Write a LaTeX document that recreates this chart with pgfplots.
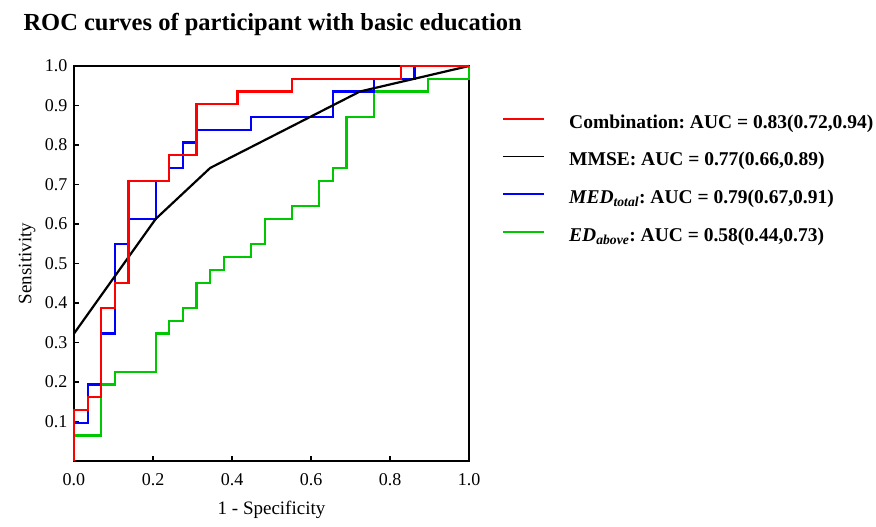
\documentclass[border=0pt]{standalone}
\usepackage{pgfplots}
\pgfplotsset{compat=1.18}
\usepackage{fontspec}
\setmainfont{Liberation Serif}
\definecolor{cred}{RGB}{255,0,0}
\definecolor{cblue}{RGB}{0,0,255}
\definecolor{cgreen}{RGB}{0,200,0}
\frenchspacing
\begin{document}
\begin{tikzpicture}
\begin{axis}[name=ax, at={(0,0)}, anchor=south west,
  scale only axis, width=395pt, height=395pt,
  xmin=0, xmax=1, ymin=0, ymax=1, clip=false,
  xtick={0,0.2,0.4,0.6,0.8,1},
  ytick={0.1,0.2,0.3,0.4,0.5,0.6,0.7,0.8,0.9,1.0},
  tick align=inside, xtick pos=bottom, ytick pos=left,
  major tick length=5pt,
  every tick/.style={black, line width=1.2pt},
  axis line style={line width=1.5pt},
  /pgf/number format/.cd, fixed, fixed zerofill, precision=1, assume math mode=true, /pgfplots/.cd,
  tick label style={font=\fontsize{18}{20}\selectfont},
  xticklabel style={anchor=north, inner sep=0pt, yshift=-12.5pt},
  yticklabel style={anchor=east, inner sep=0pt, xshift=-6.5pt},
  xlabel={1 - Specificity}, ylabel={Sensitivity},
  label style={font=\fontsize{19}{21}\selectfont},
  xlabel style={at={(rel axis cs:0.5,-0.1354)}, anchor=base},
  ylabel style={at={(rel axis cs:-0.1076,0.5)}, anchor=base},
  legend style={at={(1.0853,0.8777)}, anchor=north west, draw=none, fill=none,
    inner sep=0pt, outer sep=0pt, row sep=18.6pt,
    font=\bfseries\fontsize{19.5}{21}\selectfont,
    nodes={inner sep=0pt, text height=14pt, text depth=5pt},
    /tikz/every odd column/.append style={column sep=24pt}},
  legend cell align=left,
  legend image code/.code={\draw[#1, line width=1.5pt] (0pt,4.8pt) -- (41pt,4.8pt);},
  reverse legend,
]
\addplot[cgreen, line width=2.2pt] coordinates {
(0,0) (0,0.0645) (0.0690,0.0645) (0.0690,0.1935) (0.1034,0.1935) (0.1034,0.2258)
(0.2069,0.2258) (0.2069,0.3226) (0.2414,0.3226) (0.2414,0.3548) (0.2759,0.3548)
(0.2759,0.3871) (0.3103,0.3871) (0.3103,0.4516) (0.3448,0.4516) (0.3448,0.4839)
(0.3793,0.4839) (0.3793,0.5161) (0.4483,0.5161) (0.4483,0.5484) (0.4828,0.5484)
(0.4828,0.6129) (0.5517,0.6129) (0.5517,0.6452) (0.6207,0.6452) (0.6207,0.7097)
(0.6552,0.7097) (0.6552,0.7419) (0.6897,0.7419) (0.6897,0.8710) (0.7586,0.8710)
(0.7586,0.9355) (0.8966,0.9355) (0.8966,0.9677) (1,0.9677) (1,1)};
\addlegendentry{\textit{ED}\textsubscript{\textit{above}}: AUC = 0.58(0.44,0.73)}
\addplot[cblue, line width=2.2pt] coordinates {
(0,0) (0,0.0968) (0.0345,0.0968) (0.0345,0.1935) (0.0690,0.1935) (0.0690,0.3226)
(0.1034,0.3226) (0.1034,0.5484) (0.1379,0.5484) (0.1379,0.6129) (0.2069,0.6129)
(0.2069,0.7097) (0.2414,0.7097) (0.2414,0.7419) (0.2759,0.7419) (0.2759,0.8065)
(0.3103,0.8065) (0.3103,0.8387) (0.4483,0.8387) (0.4483,0.8710) (0.6552,0.8710)
(0.6552,0.9355) (0.7586,0.9355) (0.7586,0.9677) (0.8621,0.9677) (0.8621,1) (1,1)};
\addlegendentry{\textit{MED}\textsubscript{\textit{total}}: AUC = 0.79(0.67,0.91)}
\addplot[black, line width=2.2pt] coordinates {
(0,0.3226) (0.2069,0.6129) (0.3448,0.7419) (0.7241,0.9355) (1,1)};
\addlegendentry{MMSE: AUC = 0.77(0.66,0.89)}
\addplot[cred, line width=2.2pt] coordinates {
(0,0) (0,0.1290) (0.0345,0.1290) (0.0345,0.1613) (0.0690,0.1613) (0.0690,0.3871)
(0.1034,0.3871) (0.1034,0.4516) (0.1379,0.4516) (0.1379,0.7097) (0.2414,0.7097)
(0.2414,0.7742) (0.3103,0.7742) (0.3103,0.9032) (0.4138,0.9032) (0.4138,0.9355)
(0.5517,0.9355) (0.5517,0.9677) (0.8276,0.9677) (0.8276,1) (1,1)};
\addlegendentry{Combination: AUC = 0.83(0.72,0.94)}
\node[anchor=base west, font=\bfseries\fontsize{24.5}{28}\selectfont] at (rel axis cs:-0.1367,1.0911) {ROC curves of participant with basic education};
\end{axis}
\path ([shift={(-74pt,-66pt)}]ax.south west) rectangle ++(876pt,527pt);
\end{tikzpicture}
\end{document}
